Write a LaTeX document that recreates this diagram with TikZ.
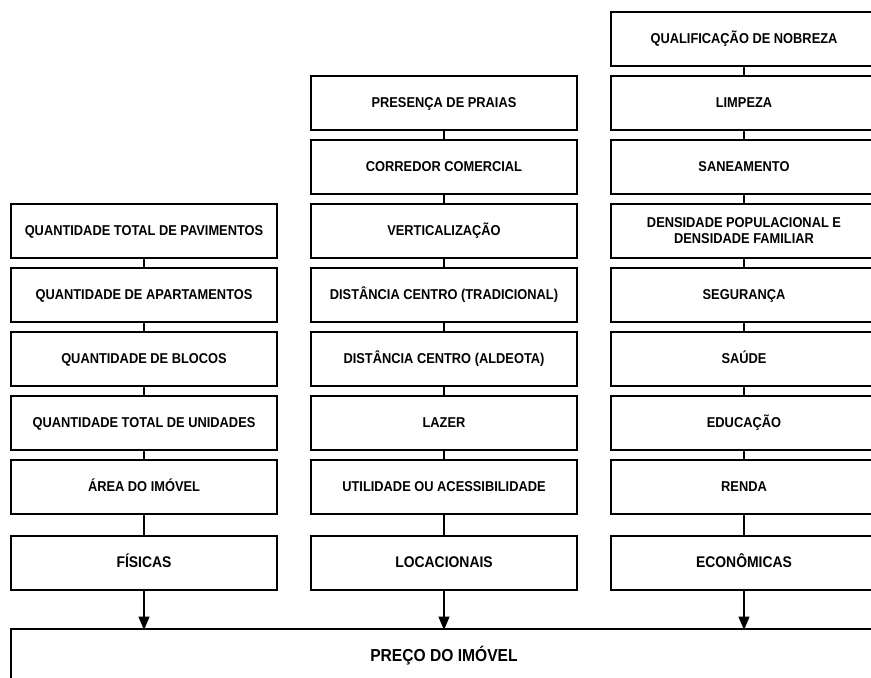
\documentclass[tikz,border=0pt]{standalone}
\usepackage{fontspec}
\setmainfont{Liberation Sans}[FakeStretch=0.9]
\usetikzlibrary{arrows.meta}
\tikzset{
  item/.style={draw, line width=1.5pt, minimum width=199.5pt, minimum height=40.5pt,
    inner sep=0pt, outer sep=0pt, align=center, text height=0.72em, text depth=0.02em,
    font=\fontsize{10.7pt}{12pt}\selectfont\bfseries},
  group/.style={item, font=\fontsize{11.6pt}{13pt}\selectfont\bfseries},
  link/.style={line width=1.5pt},
  feed/.style={line width=1.5pt, -{Triangle[length=10pt,width=8pt]}, shorten >=-0.75pt}
}
\begin{document}
\begin{tikzpicture}[x=0.75pt,y=-0.75pt]
\useasboundingbox (0,0) rectangle (871,678);
\clip (0,0) rectangle (871,678);

% physical attributes
\node[item] (f3) at (144,231) {QUANTIDADE TOTAL DE PAVIMENTOS};
\node[item] (f4) at (144,295) {QUANTIDADE DE APARTAMENTOS};
\node[item] (f5) at (144,359) {QUANTIDADE DE BLOCOS};
\node[item] (f6) at (144,423) {QUANTIDADE TOTAL DE UNIDADES};
\node[item] (f7) at (144,487) {ÁREA DO IMÓVEL};
\node[group] (fis) at (144,562.5) {FÍSICAS};

% location attributes
\node[item] (l1) at (444,103) {PRESENÇA DE PRAIAS};
\node[item] (l2) at (444,167) {CORREDOR COMERCIAL};
\node[item] (l3) at (444,231) {VERTICALIZAÇÃO};
\node[item] (l4) at (444,295) {DISTÂNCIA CENTRO (TRADICIONAL)};
\node[item] (l5) at (444,359) {DISTÂNCIA CENTRO (ALDEOTA)};
\node[item] (l6) at (444,423) {LAZER};
\node[item] (l7) at (444,487) {UTILIDADE OU ACESSIBILIDADE};
\node[group] (loc) at (444,562.5) {LOCACIONAIS};

% economic attributes
\node[item] (e0) at (744,39) {QUALIFICAÇÃO DE NOBREZA};
\node[item] (e1) at (744,103) {LIMPEZA};
\node[item] (e2) at (744,167) {SANEAMENTO};
\node[item, text height=, text depth=] (e3) at (744,231) {DENSIDADE POPULACIONAL E\\DENSIDADE FAMILIAR};
\node[item] (e4) at (744,295) {SEGURANÇA};
\node[item] (e5) at (744,359) {SAÚDE};
\node[item] (e6) at (744,423) {EDUCAÇÃO};
\node[item] (e7) at (744,487) {RENDA};
\node[group] (eco) at (744,562.5) {ECONÔMICAS};

% price
\node[item, minimum width=649.5pt, minimum height=42pt, font=\fontsize{13pt}{15pt}\selectfont\bfseries]
  (preco) at (444,657) {PREÇO DO IMÓVEL};

% chains
\foreach \a/\b in {f3/f4,f4/f5,f5/f6,f6/f7,f7/fis,
                   l1/l2,l2/l3,l3/l4,l4/l5,l5/l6,l6/l7,l7/loc,
                   e0/e1,e1/e2,e2/e3,e3/e4,e4/e5,e5/e6,e6/e7,e7/eco}
  \draw[link] (\a.south) -- (\b.north);

% groups feed the price
\foreach \g in {fis,loc,eco}
  \draw[feed] (\g.south) -- (\g.south |- preco.north);
\end{tikzpicture}
\end{document}
